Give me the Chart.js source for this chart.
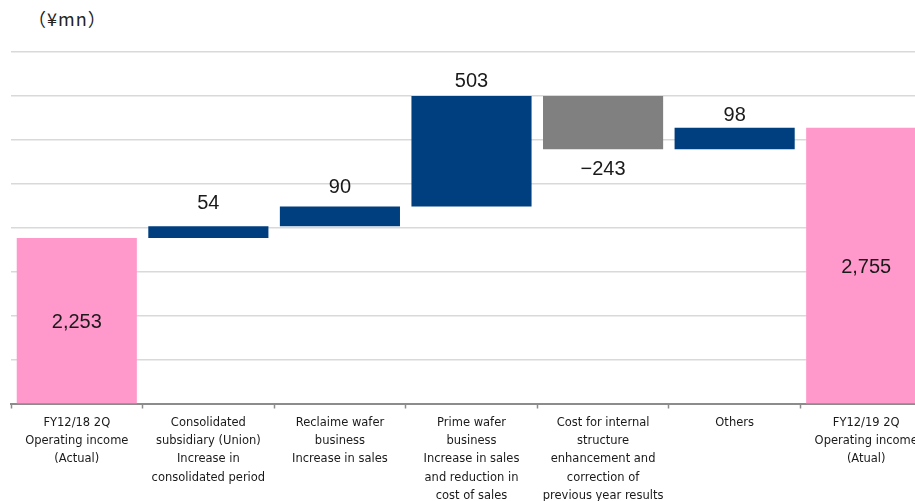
<!DOCTYPE html>
<html lang="en">
<head>
    <meta charset="UTF-8">
    <title>Operating income bridge</title>
    <style>
        body {
            margin: 0;
            background-color: #fff;
            overflow: hidden;
        }

        .chart-wrap {
            position: relative;
            width: 915px;
            height: 501px;
            overflow: hidden;
        }

        .unit-label {
            position: absolute;
            left: 28px;
            top: 5px;
            font-family: "Noto Sans CJK JP", sans-serif;
            font-size: 18px;
            letter-spacing: 1px;
            color: #222;
        }

        #bridgeChart {
            position: absolute;
            left: 0;
            top: 0;
        }
    </style>
</head>
<body>
    <div class="chart-wrap">
        <div class="unit-label">（¥mn）</div>
        <canvas id="bridgeChart" width="933" height="514"></canvas>
    </div>

    <script src="https://cdn.jsdelivr.net/npm/chart.js"></script>
    <script>
        const categories = [
            ['FY12/18 2Q', 'Operating income', '(Actual)'],
            ['Consolidated', 'subsidiary (Union)', 'Increase in', 'consolidated period'],
            ['Reclaime wafer', 'business', 'Increase in sales'],
            ['Prime wafer', 'business', 'Increase in sales', 'and reduction in', 'cost of sales'],
            ['Cost for internal', 'structure', 'enhancement and', 'correction of', 'previous year results'],
            ['Others'],
            ['FY12/19 2Q', 'Operating income', '(Atual)']
        ];
        const startValue = 2253;
        const changes = [54, 90, 503, -243, 98];
        const endValue = 2755;
        const yTicks = { min: 1500, max: 3100, step: 200 };

        // waterfall: each change floats on top of the running total
        const ranges = [[yTicks.min, startValue]];
        const labels = [startValue];
        let running = startValue;
        changes.forEach(c => {
            ranges.push([running, running + c]);
            labels.push(c);
            running += c;
        });
        ranges.push([yTicks.min, endValue]);
        labels.push(endValue);

        const colors = labels.map((v, i) => {
            if (i === 0 || i === labels.length - 1) return '#FF99CC';
            return v < 0 ? '#808080' : '#003F7F';
        });

        // distance from bar edge to label centre, as in the original
        const labelGap = [0, 23, 19, 14, 20, 12, 0];

        function fmt(v) {
            const s = Math.abs(v).toLocaleString('en-US');
            return v < 0 ? '\u2212' + s : s;
        }

        const valueLabels = {
            id: 'valueLabels',
            afterDatasetsDraw(chart) {
                const ctx = chart.ctx;
                const meta = chart.getDatasetMeta(0);
                ctx.save();
                ctx.font = '20px "Liberation Sans", Arial, sans-serif';
                ctx.fillStyle = '#1a1a1a';
                ctx.textAlign = 'center';
                ctx.textBaseline = 'middle';
                meta.data.forEach((bar, i) => {
                    const p = bar.getProps(['x', 'y', 'base'], true);
                    const top = Math.min(p.y, p.base);
                    const bottom = Math.max(p.y, p.base);
                    const v = labels[i];
                    let y;
                    if (i === 0 || i === labels.length - 1) {
                        y = (top + bottom) / 2 + 2;
                    } else if (v < 0) {
                        y = bottom + labelGap[i];
                    } else {
                        y = top - labelGap[i];
                    }
                    ctx.fillText(fmt(v), p.x, y);
                });
                ctx.restore();
            }
        };

        const ctx = document.getElementById('bridgeChart').getContext('2d');
        const bridgeChart = new Chart(ctx, {
            type: 'bar',
            data: {
                labels: categories,
                datasets: [{
                    data: ranges,
                    backgroundColor: colors,
                    borderWidth: 0,
                    barPercentage: 0.913,
                    categoryPercentage: 1.0
                }]
            },
            options: {
                responsive: false,
                animation: false,
                layout: {
                    padding: { left: 11, right: 1, top: 52, bottom: 4 }
                },
                plugins: {
                    legend: { display: false },
                    tooltip: { enabled: false }
                },
                scales: {
                    x: {
                        offset: true,
                        grid: {
                            offset: true,
                            drawOnChartArea: false,
                            drawTicks: true,
                            tickLength: 5,
                            tickColor: '#8c8c8c',
                            tickWidth: 1.5
                        },
                        border: { color: '#8c8c8c', width: 2 },
                        ticks: {
                            autoSkip: false,
                            maxRotation: 0,
                            minRotation: 0,
                            padding: 5,
                            color: '#1a1a1a',
                            font: { family: '"DejaVu Sans", sans-serif', size: 11.5, lineHeight: '18.3px' }
                        }
                    },
                    y: {
                        min: yTicks.min,
                        max: yTicks.max,
                        grid: {
                            color: '#d9d9d9',
                            lineWidth: 1.5,
                            drawTicks: false
                        },
                        border: { display: false },
                        ticks: { display: false, stepSize: yTicks.step }
                    }
                }
            },
            plugins: [valueLabels]
        });
    </script>
</body>
</html>
